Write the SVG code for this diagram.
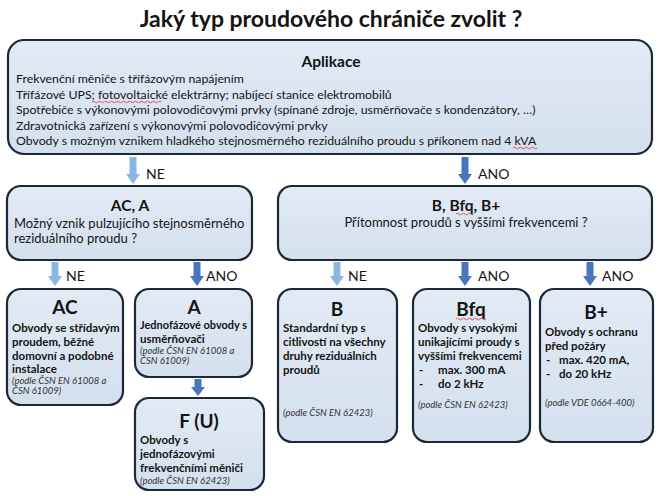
<svg xmlns="http://www.w3.org/2000/svg" width="662" height="496" viewBox="0 0 662 496">
<defs>
<linearGradient id="bg" x1="0" y1="0" x2="0" y2="1">
<stop offset="0" stop-color="#e2eaf4"/>
<stop offset="1" stop-color="#d4e0ee"/>
</linearGradient>
<style>
.box{fill:url(#bg);stroke:#1b2838;stroke-width:2.2}
text{font-family:Lato,"Liberation Sans",sans-serif;fill:#141414}
.t{font-weight:bold;font-size:23px;text-anchor:middle}
.h{font-weight:bold;font-size:15.5px;text-anchor:middle}
.h2{font-weight:bold;font-size:19px;text-anchor:middle}
.n{font-size:12.3px}
.q{font-size:13px}
.b{font-weight:bold;font-size:11.5px}
.i{font-style:italic;font-size:9.5px;fill:#333}
.lbl{font-size:14px}
.lt{fill:#8db5e4}
.dk{fill:#4777b8}
.sq{fill:none;stroke:#e03030;stroke-width:0.8}
</style>
</defs>
<rect width="662" height="496" fill="#ffffff"/>
<text class="t" x="331" y="27">Jaký typ proudového chrániče zvolit ?</text>

<g id="connectors">
<path class="lt" d="M129.5,157h7v17h3.5l-7,10l-7,-10h3.5z"/>
<path class="dk" d="M461.5,157h7v17h3.5l-7,10l-7,-10h3.5z"/>
<path class="lt" d="M51.5,262h7v14h3.5l-7,10l-7,-10h3.5z"/>
<path class="dk" d="M193.5,262h7v14h3.5l-7,10l-7,-10h3.5z"/>
<path class="lt" d="M333.5,262h7v14h3.5l-7,10l-7,-10h3.5z"/>
<path class="dk" d="M461.5,262h7v14h3.5l-7,10l-7,-10h3.5z"/>
<path class="dk" d="M586.5,262h7v14h3.5l-7,10l-7,-10h3.5z"/>
<path class="dk" d="M194.5,379h7v8h3.5l-7,9l-7,-9h3.5z"/>
<text class="lbl" x="146" y="179">NE</text>
<text class="lbl" x="478" y="179">ANO</text>
<text class="lbl" x="66" y="281">NE</text>
<text class="lbl" x="206" y="281">ANO</text>
<text class="lbl" x="348" y="281">NE</text>
<text class="lbl" x="478" y="281">ANO</text>
<text class="lbl" x="602" y="281">ANO</text>
</g>

<g id="aplikace">
<rect class="box" x="8" y="40" width="644" height="114" rx="16"/>
<text class="h" x="331" y="67">Aplikace</text>
<text class="n" x="16" y="83">Frekvenční měniče s třífázovým napájením</text>
<text class="n" x="16" y="99">Třífázové UPS; fotovoltaické elektrárny; nabíjecí stanice elektromobilů</text>
<text class="n" x="16" y="114">Spotřebiče s výkonovými polovodičovými prvky (spínané zdroje, usměrňovače s kondenzátory, …)</text>
<text class="n" x="16" y="130">Zdravotnická zařízení s výkonovými polovodičovými prvky</text>
<text class="n" x="16" y="145">Obvody s možným vznikem hladkého stejnosměrného reziduálního proudu s příkonem nad 4 kVA</text>
<path class="sq" d="M92,102q1.5,-1.5 3,0t3,0t3,0t3,0t3,0t3,0t3,0t3,0t3,0t3,0t3,0t3,0t3,0t3,0t3,0t3,0t3,0t3,0t3,0t3,0t3,0t3,0t3,0"/>
<path class="sq" d="M513,148q1.5,-1.5 3,0t3,0t3,0t3,0t3,0t3,0t3,0t3,0"/>
</g>

<g id="ac-a">
<rect class="box" x="7" y="186" width="245" height="74" rx="14"/>
<text class="h" x="130" y="211">AC, A</text>
<text class="q" x="14" y="228">Možný vznik pulzujícího stejnosměrného</text>
<text class="q" x="14" y="243">reziduálního proudu ?</text>
</g>

<g id="b-bfq-bplus">
<rect class="box" x="278" y="186" width="374" height="74" rx="14"/>
<text class="h" x="466" y="211">B, Bfq, B+</text>
<text class="q" x="466" y="227" text-anchor="middle">Přítomnost proudů s vyššími frekvencemi ?</text>
<path class="sq" d="M456,214q1.5,-1.5 3,0t3,0t3,0t3,0t3,0t3,0"/>
</g>

<g id="ac">
<rect class="box" x="7" y="289" width="116" height="116" rx="14"/>
<text class="h2" x="65" y="314">AC</text>
<text class="b" x="12" y="332">Obvody se střídavým</text>
<text class="b" x="12" y="346">proudem, běžné</text>
<text class="b" x="12" y="360">domovní  a podobné</text>
<text class="b" x="12" y="373">instalace</text>
<text class="i" x="12" y="384">(podle ČSN EN 61008 a</text>
<text class="i" x="12" y="394">ČSN 61009)</text>
</g>

<g id="a">
<rect class="box" x="135" y="289" width="117" height="88" rx="14"/>
<text class="h2" x="194" y="314">A</text>
<text class="b" x="140" y="329" textLength="107" lengthAdjust="spacingAndGlyphs">Jednofázové obvody s</text>
<text class="b" x="140" y="343">usměrňovači</text>
<text class="i" x="140" y="354">(podle ČSN EN 61008 a</text>
<text class="i" x="140" y="364">ČSN 61009)</text>
</g>

<g id="fu">
<rect class="box" x="135" y="398" width="129" height="92" rx="14"/>
<text class="h2" x="199" y="428">F (U)</text>
<text class="b" x="140" y="444">Obvody s</text>
<text class="b" x="140" y="458">jednofázovými</text>
<text class="b" x="140" y="472">frekvenčními  měniči</text>
<text class="i" x="140" y="484">(podle ČSN EN 62423)</text>
</g>

<g id="b">
<rect class="box" x="278" y="289" width="119" height="153" rx="14"/>
<text class="h2" x="337" y="316">B</text>
<text class="b" x="283" y="332">Standardní typ s</text>
<text class="b" x="283" y="346">citlivostí na všechny</text>
<text class="b" x="283" y="360">druhy reziduálních</text>
<text class="b" x="283" y="374">proudů</text>
<text class="i" x="283" y="416">(podle ČSN EN 62423)</text>
</g>

<g id="bfq">
<rect class="box" x="413" y="289" width="117" height="153" rx="14"/>
<text class="h2" x="471" y="316">Bfq</text>
<path class="sq" d="M456,319q1.5,-1.5 3,0t3,0t3,0t3,0t3,0t3,0t3,0t3,0t3,0t3,0"/>
<text class="b" x="418" y="332">Obvody s vysokými</text>
<text class="b" x="418" y="346">unikajícími proudy s</text>
<text class="b" x="418" y="360">vyššími frekvencemi</text>
<text class="b" x="419" y="374">-</text>
<text class="b" x="438" y="374">max. 300 mA</text>
<text class="b" x="419" y="388">-</text>
<text class="b" x="438" y="388">do 2 kHz</text>
<text class="i" x="418" y="408">(podle ČSN EN 62423)</text>
</g>

<g id="bplus">
<rect class="box" x="540" y="289" width="113" height="153" rx="14"/>
<text class="h2" x="596" y="319">B+</text>
<text class="b" x="545" y="336">Obvody s ochranu</text>
<text class="b" x="545" y="350">před požáry</text>
<text class="b" x="546" y="364">-</text>
<text class="b" x="559" y="364">max. 420 mA,</text>
<text class="b" x="546" y="378">-</text>
<text class="b" x="559" y="378">do 20 kHz</text>
<text class="i" x="545" y="406">(podle VDE 0664-400)</text>
</g>
</svg>
